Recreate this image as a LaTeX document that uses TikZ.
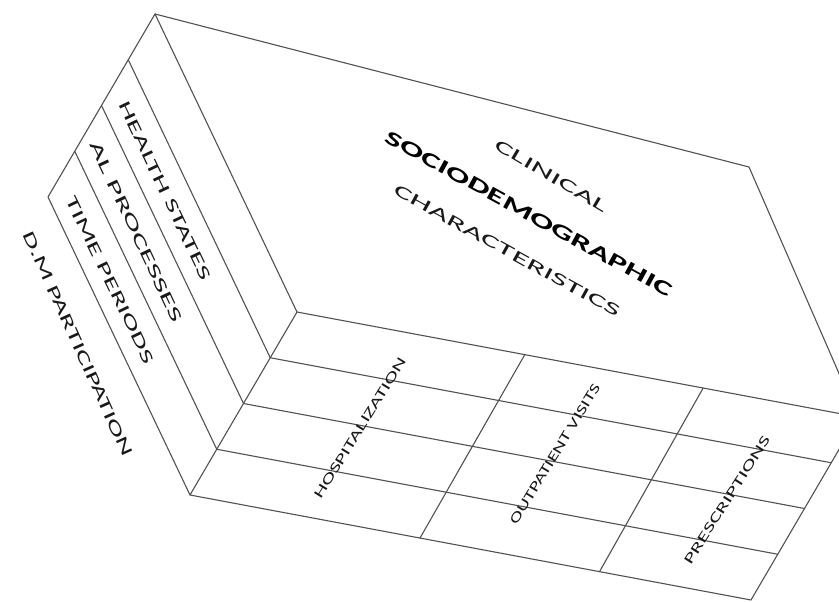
\documentclass[tikz,border=0pt]{standalone}
\usepackage{fontspec}
\setmainfont{Carlito}
\usepackage{graphicx}
\usetikzlibrary{calc}
\tikzset{
  edge/.style={draw=black!68, line width=1.1pt, line join=round, line cap=round},
  lbl/.style={inner sep=0pt, text=black!90}
}
\newcommand{\fitbox}[3]{\resizebox{#1pt}{#2pt}{#3}}
\begin{document}
\begin{tikzpicture}[x=1pt,y=-1pt]
\clip (0,0) rectangle (839,602);
\fill[white] (0,0) rectangle (839,602);
% box corners
\coordinate (A) at (155,14);
\coordinate (B) at (749,167);
\coordinate (C) at (858,417);
\coordinate (D) at (297,312);
\coordinate (E) at (190,495);
\coordinate (F) at (751,600);
\coordinate (G) at (48,197);
% outline
\draw[edge] (A) -- (B) -- (C) -- (F) -- (E) -- (G) -- cycle;
\draw[edge] (A) -- (D) -- (C);
\draw[edge] (D) -- (E);
% stripes of the left face and rows of the front face
\foreach \k in {1,2,3}{
  \draw[edge] ($(A)!\k/4!(G)$) -- ($(D)!\k/4!(E)$) -- ($(C)!\k/4!(F)$);
}
% column dividers of the front face
\draw[edge] ($(D)!0.406!(C)$) -- ($(E)!0.41!(F)$);
\draw[edge] ($(D)!0.724!(C)$) -- ($(E)!0.73!(F)$);
% top face texts
\node[lbl, rotate=-30.6] (clin) at (551,176) {\fitbox{128}{11}{CLINICAL}};
\node[lbl, rotate=-28.7, text=black] (socio) at (529,214) {\fitbox{324}{13}{\bfseries SOCIODEMOGRAPHIC}};
\node[lbl, rotate=-28.9] (char) at (507,251) {\fitbox{256}{11}{CHARACTERISTICS}};
% left face texts
\node[lbl, rotate=-64.6] (hs) at (165,191) {\fitbox{196}{11}{HEALTH STATES}};
\node[lbl, rotate=-64.9] (alp) at (136,232) {\fitbox{198}{11}{AL PROCESSES}};
\node[lbl, rotate=-64.3] (tp) at (110,280) {\fitbox{184}{11}{TIME PERIODS}};
\node[lbl, rotate=-65.7] (dm) at (78,344) {\fitbox{245}{11}{D.M PARTICIPATION}};
% front face column texts
\node[lbl, rotate=58.3] (c1) at (360,428) {\fitbox{163}{9}{HOSPITALIZATION}};
\node[lbl, rotate=58.7] (c2) at (555,454) {\fitbox{162}{9}{OUTPATIENT VISITS}};
\node[lbl, rotate=57.6] (c3) at (727,500) {\fitbox{149}{9}{PRESCRIPTIONS}};
\end{tikzpicture}
\end{document}
